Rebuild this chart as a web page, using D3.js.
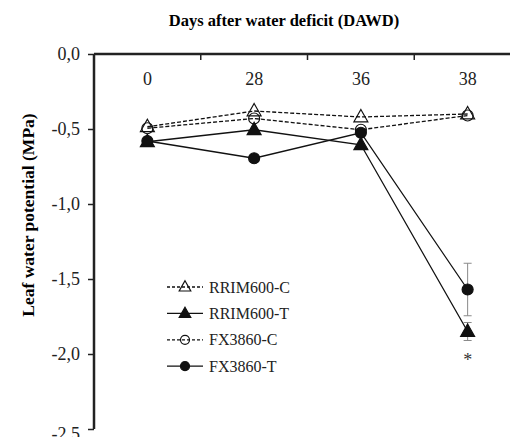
<!DOCTYPE html>
<html>
<head>
<meta charset="utf-8">
<script src="https://cdn.jsdelivr.net/npm/d3@7"></script>
<style>
  html, body { margin: 0; padding: 0; background: #fff; }
  svg { display: block; font-family: "Liberation Serif", "Times New Roman", serif; }
</style>
</head>
<body>
<svg id="chart" width="510" height="437"></svg>
<script>
const days = ["0", "28", "36", "38"];
const yTicks = [0, -0.5, -1.0, -1.5, -2.0, -2.5];
const seriesNames = ["RRIM600-C", "RRIM600-T", "FX3860-C", "FX3860-T"];
const rrim600C = [-0.485, -0.38, -0.42, -0.40];
const rrim600T = [-0.585, -0.505, -0.605, -1.85];
const fx3860C  = [-0.495, -0.43, -0.505, -0.41];
const fx3860T  = [-0.58, -0.695, -0.525, -1.57];
const rrim600TErr = [0, 0, 0, 0.06];
const fx3860TErr  = [0, 0, 0, 0.175];

const series = [
  { name: seriesNames[0], values: rrim600C, err: null, marker: "triangle", filled: false, dashed: true },
  { name: seriesNames[1], values: rrim600T, err: rrim600TErr, marker: "triangle", filled: true, dashed: false },
  { name: seriesNames[2], values: fx3860C, err: null, marker: "circle", filled: false, dashed: true },
  { name: seriesNames[3], values: fx3860T, err: fx3860TErr, marker: "circle", filled: true, dashed: false }
];

const svg = d3.select("#chart");
const mLeft = 94, mTop = 54, mRight = 521, mBottom = 429;

const x = d3.scaleBand().domain(days).range([mLeft, mRight]).paddingInner(0).paddingOuter(0);
const y = d3.scaleLinear().domain([0, -2.5]).range([mTop, mBottom]);

// Title
svg.append("text").attr("x", 284).attr("y", 26).attr("text-anchor", "middle")
  .attr("font-weight", "bold").attr("font-size", 16.5).text("Days after water deficit (DAWD)");

// Y label
svg.append("text").attr("transform", `translate(34,215) rotate(-90)`)
  .attr("text-anchor", "middle").attr("font-weight", "bold").attr("font-size", 17.5)
  .text("Leaf water potential (MPa)");

// Y axis
const yAxis = d3.axisLeft(y).tickValues(yTicks).tickSize(6).tickPadding(8)
  .tickFormat(d => d3.format(".1f")(d).replace(".", ",").replace("−", "-"));
const gy = svg.append("g").attr("transform", `translate(${mLeft},0)`).call(yAxis);
gy.select(".domain").remove();
gy.selectAll(".tick line").attr("stroke", "#222").attr("stroke-width", 1.5);
gy.selectAll(".tick text").attr("font-size", 18).attr("fill", "#222")
  .attr("font-family", "Liberation Serif, serif");
gy.selectAll(".tick").filter(d => d === -2.5).select("text").attr("dy", "0.6em");
svg.append("line").attr("x1", mLeft).attr("x2", mLeft).attr("y1", mTop).attr("y2", mBottom)
  .attr("stroke", "#222").attr("stroke-width", 2.5);

// Top axis (band boundaries as ticks, categories as labels)
svg.append("line").attr("x1", mLeft).attr("x2", 510).attr("y1", mTop).attr("y2", mTop)
  .attr("stroke", "#222").attr("stroke-width", 2.5);
const gx = svg.append("g").attr("transform", `translate(0,${mTop})`)
  .call(d3.axisBottom(x).tickSize(0).tickPadding(18));
gx.select(".domain").remove();
gx.selectAll(".tick text").attr("font-size", 18).attr("fill", "#222")
  .attr("font-family", "Liberation Serif, serif");
svg.append("g").selectAll("line").data(days.slice(1)).join("line")
  .attr("x1", d => x(d)).attr("x2", d => x(d)).attr("y1", mTop).attr("y2", mTop + 6)
  .attr("stroke", "#222").attr("stroke-width", 1.5);

const cx = d => x(d) + x.bandwidth() / 2;
const line = d3.line().x((v, i) => cx(days[i])).y(v => y(v));

const triPath = (s) => `M0,${-s * 0.62}L${s * 0.58},${s * 0.4}L${-s * 0.58},${s * 0.4}Z`;

function drawMarker(g, type, filled, size) {
  if (type === "triangle") {
    g.append("path").attr("d", triPath(size))
      .attr("fill", filled ? "#111" : "none").attr("stroke", "#111").attr("stroke-width", 1.2);
  } else {
    g.append("circle").attr("r", size / 2)
      .attr("fill", filled ? "#111" : "none").attr("stroke", "#111").attr("stroke-width", 1.2);
  }
}

// Error bars
series.filter(s => s.err).forEach(s => {
  s.values.forEach((v, i) => {
    const e = s.err[i];
    if (!e) return;
    const g = svg.append("g").attr("stroke", "#8a8a8a").attr("stroke-width", 1);
    const px = cx(days[i]);
    g.append("line").attr("x1", px).attr("x2", px).attr("y1", y(v + e)).attr("y2", y(v - e));
    g.append("line").attr("x1", px - 4).attr("x2", px + 4).attr("y1", y(v + e)).attr("y2", y(v + e));
    g.append("line").attr("x1", px - 4).attr("x2", px + 4).attr("y1", y(v - e)).attr("y2", y(v - e));
  });
});

// Lines
series.forEach(s => {
  svg.append("path").attr("d", line(s.values)).attr("fill", "none")
    .attr("stroke", "#111").attr("stroke-width", 1.3)
    .attr("stroke-dasharray", s.dashed ? "4,2" : null);
});

// Markers
series.forEach(s => {
  s.values.forEach((v, i) => {
    const g = svg.append("g").attr("transform", `translate(${cx(days[i])},${y(v)})`);
    drawMarker(g, s.marker, s.filled, s.marker === "triangle" ? 12 : 11);
  });
});

// Asterisk
svg.append("text").attr("x", cx("38")).attr("y", y(-2.0) + 12).attr("text-anchor", "middle")
  .attr("font-size", 18).attr("fill", "#333").text("*");

// Legend
const lg = svg.append("g");
series.forEach((s, i) => {
  const yy = 287 + i * 26.4;
  lg.append("line").attr("x1", 167).attr("x2", 203).attr("y1", yy).attr("y2", yy)
    .attr("stroke", "#111").attr("stroke-width", 1.3).attr("stroke-dasharray", s.dashed ? "3,2" : null);
  const g = lg.append("g").attr("transform", `translate(185,${yy})`);
  drawMarker(g, s.marker, s.filled, s.marker === "triangle" ? 10 : 9);
  lg.append("text").attr("x", 209).attr("y", yy + 5.5).attr("font-size", 16).attr("fill", "#222").text(s.name);
});
</script>
</body>
</html>
